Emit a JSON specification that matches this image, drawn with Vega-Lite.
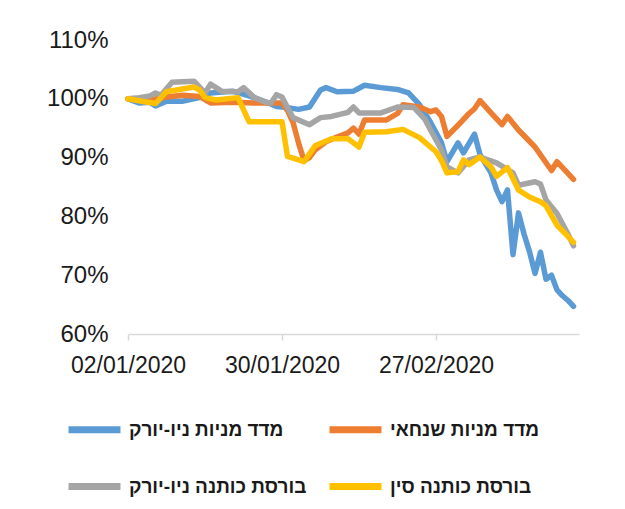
{
  "$schema": "https://vega.github.io/schema/vega-lite/v6.json",
  "autosize": {"type": "none"},
  "padding": {"left": 128, "top": 40, "right": 46, "bottom": 175},
  "width": 451,
  "height": 294,
  "background": "white",
  "config": {
    "view": {"stroke": null},
    "font": "Liberation Sans"
  },
  "data": {"values": [
    {"series":"מדד מניות ניו-יורק","date":"2020-01-02","value":100},
    {"series":"מדד מניות ניו-יורק","date":"2020-01-04","value":99.3},
    {"series":"מדד מניות ניו-יורק","date":"2020-01-06","value":99.4},
    {"series":"מדד מניות ניו-יורק","date":"2020-01-07","value":98.8},
    {"series":"מדד מניות ניו-יורק","date":"2020-01-09","value":99.6},
    {"series":"מדד מניות ניו-יורק","date":"2020-01-12","value":99.6},
    {"series":"מדד מניות ניו-יורק","date":"2020-01-15","value":100.2},
    {"series":"מדד מניות ניו-יורק","date":"2020-01-17","value":101.0},
    {"series":"מדד מניות ניו-יורק","date":"2020-01-21","value":101.3},
    {"series":"מדד מניות ניו-יורק","date":"2020-01-24","value":100.5},
    {"series":"מדד מניות ניו-יורק","date":"2020-01-27","value":99.5},
    {"series":"מדד מניות ניו-יורק","date":"2020-01-29","value":98.7},
    {"series":"מדד מניות ניו-יורק","date":"2020-01-31","value":98.5},
    {"series":"מדד מניות ניו-יורק","date":"2020-02-02","value":98.2},
    {"series":"מדד מניות ניו-יורק","date":"2020-02-04","value":98.6},
    {"series":"מדד מניות ניו-יורק","date":"2020-02-06","value":101.5},
    {"series":"מדד מניות ניו-יורק","date":"2020-02-07","value":101.9},
    {"series":"מדד מניות ניו-יורק","date":"2020-02-09","value":101.2},
    {"series":"מדד מניות ניו-יורק","date":"2020-02-12","value":101.3},
    {"series":"מדד מניות ניו-יורק","date":"2020-02-14","value":102.3},
    {"series":"מדד מניות ניו-יורק","date":"2020-02-17","value":101.9},
    {"series":"מדד מניות ניו-יורק","date":"2020-02-20","value":101.6},
    {"series":"מדד מניות ניו-יורק","date":"2020-02-22","value":101.0},
    {"series":"מדד מניות ניו-יורק","date":"2020-02-24","value":99.0},
    {"series":"מדד מניות ניו-יורק","date":"2020-02-26","value":96.0},
    {"series":"מדד מניות ניו-יורק","date":"2020-02-28","value":92.5},
    {"series":"מדד מניות ניו-יורק","date":"2020-02-29","value":89.3},
    {"series":"מדד מניות ניו-יורק","date":"2020-03-02","value":92.5},
    {"series":"מדד מניות ניו-יורק","date":"2020-03-03","value":90.8},
    {"series":"מדד מניות ניו-יורק","date":"2020-03-05","value":94.0},
    {"series":"מדד מניות ניו-יורק","date":"2020-03-06","value":90.5},
    {"series":"מדד מניות ניו-יורק","date":"2020-03-08","value":87.4},
    {"series":"מדד מניות ניו-יורק","date":"2020-03-09","value":84.5},
    {"series":"מדד מניות ניו-יורק","date":"2020-03-10","value":82.5},
    {"series":"מדד מניות ניו-יורק","date":"2020-03-11","value":84.5},
    {"series":"מדד מניות ניו-יורק","date":"2020-03-12","value":73.5},
    {"series":"מדד מניות ניו-יורק","date":"2020-03-13","value":80.6},
    {"series":"מדד מניות ניו-יורק","date":"2020-03-14","value":77.0},
    {"series":"מדד מניות ניו-יורק","date":"2020-03-15","value":74.0},
    {"series":"מדד מניות ניו-יורק","date":"2020-03-16","value":70.3},
    {"series":"מדד מניות ניו-יורק","date":"2020-03-17","value":73.9},
    {"series":"מדד מניות ניו-יורק","date":"2020-03-18","value":69.3},
    {"series":"מדד מניות ניו-יורק","date":"2020-03-19","value":70.0},
    {"series":"מדד מניות ניו-יורק","date":"2020-03-20","value":67.5},
    {"series":"מדד מניות ניו-יורק","date":"2020-03-21","value":66.5},
    {"series":"מדד מניות ניו-יורק","date":"2020-03-22","value":65.7},
    {"series":"מדד מניות ניו-יורק","date":"2020-03-23","value":64.7},

    {"series":"מדד מניות שנחאי","date":"2020-01-02","value":100},
    {"series":"מדד מניות שנחאי","date":"2020-01-06","value":99.8},
    {"series":"מדד מניות שנחאי","date":"2020-01-09","value":100.3},
    {"series":"מדד מניות שנחאי","date":"2020-01-12","value":100.6},
    {"series":"מדד מניות שנחאי","date":"2020-01-15","value":100.4},
    {"series":"מדד מניות שנחאי","date":"2020-01-17","value":99.3},
    {"series":"מדד מניות שנחאי","date":"2020-01-21","value":99.4},
    {"series":"מדד מניות שנחאי","date":"2020-01-25","value":99.3},
    {"series":"מדד מניות שנחאי","date":"2020-01-30","value":99.3},
    {"series":"מדד מניות שנחאי","date":"2020-01-31","value":98.0},
    {"series":"מדד מניות שנחאי","date":"2020-02-01","value":96.0},
    {"series":"מדד מניות שנחאי","date":"2020-02-02","value":92.5},
    {"series":"מדד מניות שנחאי","date":"2020-02-03","value":89.5},
    {"series":"מדד מניות שנחאי","date":"2020-02-04","value":90.0},
    {"series":"מדד מניות שנחאי","date":"2020-02-05","value":91.3},
    {"series":"מדד מניות שנחאי","date":"2020-02-07","value":92.7},
    {"series":"מדד מניות שנחאי","date":"2020-02-09","value":93.5},
    {"series":"מדד מניות שנחאי","date":"2020-02-11","value":94.2},
    {"series":"מדד מניות שנחאי","date":"2020-02-12","value":95.0},
    {"series":"מדד מניות שנחאי","date":"2020-02-13","value":94.0},
    {"series":"מדד מניות שנחאי","date":"2020-02-14","value":96.4},
    {"series":"מדד מניות שנחאי","date":"2020-02-18","value":96.4},
    {"series":"מדד מניות שנחאי","date":"2020-02-20","value":97.5},
    {"series":"מדד מניות שנחאי","date":"2020-02-21","value":99.0},
    {"series":"מדד מניות שנחאי","date":"2020-02-24","value":98.6},
    {"series":"מדד מניות שנחאי","date":"2020-02-26","value":97.8},
    {"series":"מדד מניות שנחאי","date":"2020-02-27","value":98.1},
    {"series":"מדד מניות שנחאי","date":"2020-02-28","value":97.0},
    {"series":"מדד מניות שנחאי","date":"2020-02-29","value":93.6},
    {"series":"מדד מניות שנחאי","date":"2020-03-02","value":95.5},
    {"series":"מדד מניות שנחאי","date":"2020-03-04","value":97.5},
    {"series":"מדד מניות שנחאי","date":"2020-03-05","value":98.3},
    {"series":"מדד מניות שנחאי","date":"2020-03-06","value":99.7},
    {"series":"מדד מניות שנחאי","date":"2020-03-08","value":97.6},
    {"series":"מדד מניות שנחאי","date":"2020-03-10","value":95.6},
    {"series":"מדד מניות שנחאי","date":"2020-03-11","value":97.0},
    {"series":"מדד מניות שנחאי","date":"2020-03-13","value":94.7},
    {"series":"מדד מניות שנחאי","date":"2020-03-16","value":91.8},
    {"series":"מדד מניות שנחאי","date":"2020-03-19","value":87.8},
    {"series":"מדד מניות שנחאי","date":"2020-03-20","value":89.3},
    {"series":"מדד מניות שנחאי","date":"2020-03-23","value":86.3},

    {"series":"בורסת כותנה ניו-יורק","date":"2020-01-02","value":100},
    {"series":"בורסת כותנה ניו-יורק","date":"2020-01-04","value":100.2},
    {"series":"בורסת כותנה ניו-יורק","date":"2020-01-06","value":100.5},
    {"series":"בורסת כותנה ניו-יורק","date":"2020-01-07","value":101.0},
    {"series":"בורסת כותנה ניו-יורק","date":"2020-01-08","value":100.6},
    {"series":"בורסת כותנה ניו-יורק","date":"2020-01-10","value":102.8},
    {"series":"בורסת כותנה ניו-יורק","date":"2020-01-14","value":103.0},
    {"series":"בורסת כותנה ניו-יורק","date":"2020-01-16","value":101.0},
    {"series":"בורסת כותנה ניו-יורק","date":"2020-01-17","value":102.5},
    {"series":"בורסת כותנה ניו-יורק","date":"2020-01-19","value":101.3},
    {"series":"בורסת כותנה ניו-יורק","date":"2020-01-22","value":101.2},
    {"series":"בורסת כותנה ניו-יורק","date":"2020-01-23","value":101.9},
    {"series":"בורסת כותנה ניו-יורק","date":"2020-01-25","value":100.2},
    {"series":"בורסת כותנה ניו-יורק","date":"2020-01-27","value":99.4},
    {"series":"בורסת כותנה ניו-יורק","date":"2020-01-28","value":99.3},
    {"series":"בורסת כותנה ניו-יורק","date":"2020-01-29","value":100.7},
    {"series":"בורסת כותנה ניו-יורק","date":"2020-01-30","value":100.3},
    {"series":"בורסת כותנה ניו-יורק","date":"2020-01-31","value":98.5},
    {"series":"בורסת כותנה ניו-יורק","date":"2020-02-01","value":96.8},
    {"series":"בורסת כותנה ניו-יורק","date":"2020-02-04","value":95.6},
    {"series":"בורסת כותנה ניו-יורק","date":"2020-02-06","value":96.8},
    {"series":"בורסת כותנה ניו-יורק","date":"2020-02-08","value":97.0},
    {"series":"בורסת כותנה ניו-יורק","date":"2020-02-11","value":97.7},
    {"series":"בורסת כותנה ניו-יורק","date":"2020-02-12","value":98.6},
    {"series":"בורסת כותנה ניו-יורק","date":"2020-02-13","value":97.6},
    {"series":"בורסת כותנה ניו-יורק","date":"2020-02-17","value":97.6},
    {"series":"בורסת כותנה ניו-יורק","date":"2020-02-20","value":98.6},
    {"series":"בורסת כותנה ניו-יורק","date":"2020-02-23","value":98.5},
    {"series":"בורסת כותנה ניו-יורק","date":"2020-02-25","value":96.5},
    {"series":"בורסת כותנה ניו-יורק","date":"2020-02-26","value":94.7},
    {"series":"בורסת כותנה ניו-יורק","date":"2020-02-28","value":91.3},
    {"series":"בורסת כותנה ניו-יורק","date":"2020-02-29","value":88.4},
    {"series":"בורסת כותנה ניו-יורק","date":"2020-03-02","value":87.4},
    {"series":"בורסת כותנה ניו-יורק","date":"2020-03-04","value":89.6},
    {"series":"בורסת כותנה ניו-יורק","date":"2020-03-06","value":90.1},
    {"series":"בורסת כותנה ניו-יורק","date":"2020-03-09","value":89.1},
    {"series":"בורסת כותנה ניו-יורק","date":"2020-03-12","value":87.4},
    {"series":"בורסת כותנה ניו-יורק","date":"2020-03-13","value":85.3},
    {"series":"בורסת כותנה ניו-יורק","date":"2020-03-16","value":85.9},
    {"series":"בורסת כותנה ניו-יורק","date":"2020-03-17","value":85.5},
    {"series":"בורסת כותנה ניו-יורק","date":"2020-03-18","value":82.8},
    {"series":"בורסת כותנה ניו-יורק","date":"2020-03-20","value":80.5},
    {"series":"בורסת כותנה ניו-יורק","date":"2020-03-22","value":77.0},
    {"series":"בורסת כותנה ניו-יורק","date":"2020-03-23","value":75.0},

    {"series":"בורסת כותנה סין","date":"2020-01-02","value":100},
    {"series":"בורסת כותנה סין","date":"2020-01-05","value":99.5},
    {"series":"בורסת כותנה סין","date":"2020-01-07","value":99.2},
    {"series":"בורסת כותנה סין","date":"2020-01-09","value":101.2},
    {"series":"בורסת כותנה סין","date":"2020-01-14","value":102.0},
    {"series":"בורסת כותנה סין","date":"2020-01-15","value":101.5},
    {"series":"בורסת כותנה סין","date":"2020-01-16","value":100.2},
    {"series":"בורסת כותנה סין","date":"2020-01-18","value":99.8},
    {"series":"בורסת כותנה סין","date":"2020-01-22","value":100.2},
    {"series":"בורסת כותנה סין","date":"2020-01-24","value":96.1},
    {"series":"בורסת כותנה סין","date":"2020-01-30","value":96.1},
    {"series":"בורסת כותנה סין","date":"2020-01-31","value":90.2},
    {"series":"בורסת כותנה סין","date":"2020-02-03","value":89.3},
    {"series":"בורסת כותנה סין","date":"2020-02-05","value":92.0},
    {"series":"בורסת כותנה סין","date":"2020-02-08","value":93.2},
    {"series":"בורסת כותנה סין","date":"2020-02-11","value":93.2},
    {"series":"בורסת כותנה סין","date":"2020-02-12","value":92.5},
    {"series":"בורסת כותנה סין","date":"2020-02-13","value":91.8},
    {"series":"בורסת כותנה סין","date":"2020-02-14","value":94.3},
    {"series":"בורסת כותנה סין","date":"2020-02-18","value":94.4},
    {"series":"בורסת כותנה סין","date":"2020-02-21","value":94.8},
    {"series":"בורסת כותנה סין","date":"2020-02-24","value":93.4},
    {"series":"בורסת כותנה סין","date":"2020-02-27","value":91.0},
    {"series":"בורסת כותנה סין","date":"2020-02-28","value":89.5},
    {"series":"בורסת כותנה סין","date":"2020-02-29","value":87.4},
    {"series":"בורסת כותנה סין","date":"2020-03-02","value":87.6},
    {"series":"בורסת כותנה סין","date":"2020-03-03","value":89.6},
    {"series":"בורסת כותנה סין","date":"2020-03-04","value":88.8},
    {"series":"בורסת כותנה סין","date":"2020-03-06","value":90.1},
    {"series":"בורסת כותנה סין","date":"2020-03-08","value":88.4},
    {"series":"בורסת כותנה סין","date":"2020-03-09","value":86.8},
    {"series":"בורסת כותנה סין","date":"2020-03-11","value":88.3},
    {"series":"בורסת כותנה סין","date":"2020-03-13","value":84.5},
    {"series":"בורסת כותנה סין","date":"2020-03-15","value":83.3},
    {"series":"בורסת כותנה סין","date":"2020-03-17","value":82.5},
    {"series":"בורסת כותנה סין","date":"2020-03-18","value":81.8},
    {"series":"בורסת כותנה סין","date":"2020-03-20","value":78.5},
    {"series":"בורסת כותנה סין","date":"2020-03-22","value":76.6},
    {"series":"בורסת כותנה סין","date":"2020-03-23","value":75.6}
  ]},
  "mark": {"type": "line", "strokeWidth": 5.5, "strokeCap": "round", "strokeJoin": "round"},
  "encoding": {
    "x": {
      "field": "date", "type": "temporal",
      "scale": {"type": "utc", "domain": [{"year": 2020, "month": 1, "date": 2, "utc": true}, {"year": 2020, "month": 3, "date": 24, "utc": true}]},
      "axis": {
        "title": null,
        "values": [{"year": 2020, "month": 1, "date": 2, "utc": true}, {"year": 2020, "month": 1, "date": 30, "utc": true}, {"year": 2020, "month": 2, "date": 27, "utc": true}],
        "labelExpr": "utcFormat(datum.value, '%d/%m/%Y')",
        "grid": false,
        "domainColor": "#d9d9d9", "domainWidth": 1.5,
        "tickColor": "#d9d9d9", "tickWidth": 1.5, "tickSize": 6,
        "labelFont": "Liberation Sans",
        "labelFontSize": 23, "labelColor": "#1a1a1a", "labelPadding": 14,
        "labelAlign": "center", "labelFlush": false, "labelOverlap": false
      }
    },
    "y": {
      "field": "value", "type": "quantitative",
      "scale": {"domain": [60, 110], "nice": false, "zero": false},
      "axis": {
        "title": null,
        "values": [60, 70, 80, 90, 100, 110],
        "labelExpr": "datum.value + '%'",
        "grid": false, "domain": false, "ticks": false,
        "labelFont": "Liberation Sans",
        "labelFontSize": 24, "labelColor": "#1a1a1a", "labelPadding": 20
      }
    },
    "color": {
      "field": "series", "type": "nominal",
      "scale": {
        "domain": ["מדד מניות ניו-יורק", "מדד מניות שנחאי", "בורסת כותנה ניו-יורק", "בורסת כותנה סין"],
        "range": ["#5B9BD5", "#ED7D31", "#A5A5A5", "#FFC000"]
      },
      "legend": {
        "title": null,
        "orient": "none",
        "direction": "horizontal",
        "legendX": -63,
        "legendY": 360,
        "columns": 2,
        "symbolType": "stroke",
        "symbolSize": 2700,
        "symbolStrokeWidth": 7,
        "labelFont": "Liberation Sans",
        "labelFontSize": 19,
        "labelFontWeight": "bold",
        "labelColor": "#1a1a1a",
        "labelOffset": 5,
        "labelLimit": 300,
        "columnPadding": 8,
        "rowPadding": 13
      }
    }
  }
}
